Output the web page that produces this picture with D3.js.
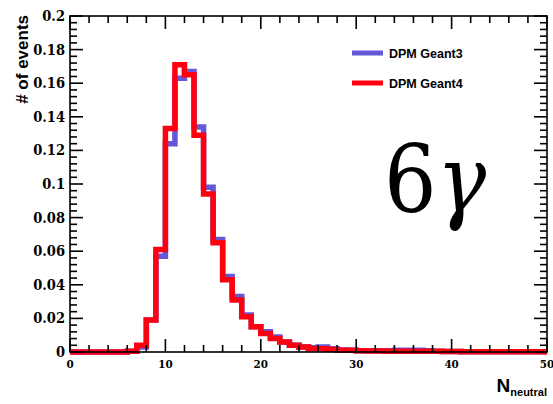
<!DOCTYPE html>
<html>
<head>
<meta charset="utf-8">
<script src="https://cdn.jsdelivr.net/npm/d3@7"></script>
<style>
  body { margin: 0; background: #fff; }
  svg { display: block; }
</style>
</head>
<body>
<figure id="hist" style="margin:0"></figure>
<script>
// bin contents, bins of width 1 from 0 to 50
const geant3 = [0, 0, 0, 0, 0, 0, 0.0005, 0.003, 0.019, 0.057,
  0.124, 0.163, 0.167, 0.134, 0.098, 0.067, 0.045, 0.033, 0.022, 0.015,
  0.012, 0.009, 0.006, 0.004, 0.003, 0.0025, 0.003, 0.002, 0.0012, 0.001,
  0.0008, 0.0008, 0.0007, 0.0007, 0.001, 0.001, 0.001, 0.0008, 0.0004, 0.0003,
  0.0003, 0.0002, 0.0002, 0.0002, 0.0001, 0.0001, 0.0001, 0.0001, 0.0001, 0.0001];
const geant4 = [0, 0, 0, 0, 0, 0, 0.0005, 0.004, 0.019, 0.061,
  0.133, 0.171, 0.165, 0.129, 0.094, 0.065, 0.043, 0.031, 0.021, 0.015,
  0.011, 0.008, 0.006, 0.004, 0.003, 0.002, 0.002, 0.0015, 0.001, 0.001,
  0.0008, 0.0006, 0.0006, 0.0005, 0.0005, 0.0005, 0.0005, 0.0004, 0.0004, 0.0003,
  0.0003, 0.0002, 0.0002, 0.0002, 0.0001, 0.0001, 0.0001, 0.0001, 0.0001, 0.0001];
const seriesNames = ["DPM Geant3", "DPM Geant4"];
const yTicks = [0, 0.02, 0.04, 0.06, 0.08, 0.1, 0.12, 0.14, 0.16, 0.18, 0.2];
const xTicks = [0, 10, 20, 30, 40, 50];

const serif = "'DejaVu Serif Condensed', 'DejaVu Serif', serif";
const sans = "'Liberation Sans', Arial, sans-serif";

const W = 553, H = 404;
const margin = { left: 70, right: 6, top: 16, bottom: 52 };
const width = W - margin.left - margin.right;
const height = H - margin.top - margin.bottom;

const svg = d3.select("figure#hist").append("svg")
  .attr("width", W).attr("height", H);
const g = svg.append("g")
  .attr("transform", "translate(" + margin.left + "," + margin.top + ")");

const x = d3.scaleLinear().domain([0, 50]).range([0, width]);
const y = d3.scaleLinear().domain([0, 0.2]).range([height, 0]);

// histogram outline as a step path
function stepPath(vals) {
  const pts = [[x(0), y(0)]];
  vals.forEach((v, i) => {
    pts.push([x(i), y(v)]);
    pts.push([x(i + 1), y(v)]);
  });
  return d3.line()(pts);
}

g.append("path").attr("d", stepPath(geant3))
  .attr("fill", "none").attr("stroke", "#6358d8").attr("stroke-width", 5.5)
  .attr("stroke-linejoin", "miter");
g.append("path").attr("d", stepPath(geant4))
  .attr("fill", "none").attr("stroke", "#ff0010").attr("stroke-width", 5.5)
  .attr("stroke-linejoin", "miter");

// frame
g.append("rect").attr("width", width).attr("height", height)
  .attr("fill", "none").attr("stroke", "#000").attr("stroke-width", 1.6);

// ticks (inward, ROOT style) on all four sides
const yMinor = d3.range(0, 0.2001, 0.004);
const xMinor = d3.range(0, 50.01, 2);
const tickG = g.append("g").attr("stroke", "#000").attr("stroke-width", 1.6);
yMinor.forEach(v => {
  const major = Math.abs(v / 0.02 - Math.round(v / 0.02)) < 1e-6;
  const len = major ? 13 : 7;
  tickG.append("line").attr("x1", 0).attr("x2", len).attr("y1", y(v)).attr("y2", y(v));
  tickG.append("line").attr("x1", width).attr("x2", width - len).attr("y1", y(v)).attr("y2", y(v));
});
xMinor.forEach(v => {
  const major = v % 10 === 0;
  const len = major ? 13 : 7;
  tickG.append("line").attr("x1", x(v)).attr("x2", x(v)).attr("y1", height).attr("y2", height - len);
  tickG.append("line").attr("x1", x(v)).attr("x2", x(v)).attr("y1", 0).attr("y2", len);
});

// tick labels
g.selectAll(".ylab").data(yTicks).enter().append("text")
  .attr("x", -5).attr("y", d => y(d) + 5)
  .attr("text-anchor", "end")
  .attr("font-family", serif).attr("font-weight", "bold")
  .attr("font-size", 14.5)
  .text(d => d3.format("")(d));
g.selectAll(".xlab").data(xTicks).enter().append("text")
  .attr("x", d => x(d)).attr("y", height + 16)
  .attr("text-anchor", "middle")
  .attr("font-family", serif).attr("font-weight", "bold")
  .attr("font-size", 11.5)
  .text(d => d);

// axis titles
svg.append("text")
  .attr("transform", "translate(28,15) rotate(-90)")
  .attr("text-anchor", "end")
  .attr("font-family", sans).attr("font-weight", "bold")
  .attr("font-size", 17)
  .text("# of events");
const xt = svg.append("text")
  .attr("x", 547).attr("y", 392)
  .attr("text-anchor", "end")
  .attr("font-family", sans).attr("font-weight", "bold")
  .attr("font-size", 19);
xt.append("tspan").text("N");
xt.append("tspan").attr("dy", 4).attr("font-size", 11).text("neutral");

// legend
const legColors = ["#6358d8", "#ff0010"];
seriesNames.forEach((name, i) => {
  const ly = 53 + i * 30;
  svg.append("line").attr("x1", 352).attr("x2", 383).attr("y1", ly).attr("y2", ly)
    .attr("stroke", legColors[i]).attr("stroke-width", 5);
  svg.append("text").attr("x", 389).attr("y", ly + 5)
    .attr("font-family", sans).attr("font-weight", "bold")
    .attr("font-size", 12.5)
    .text(name);
});

// label
const lab = svg.append("text")
  .attr("transform", "translate(384,212) scale(0.88,1)")
  .attr("font-family", "'DejaVu Serif', serif")
  .attr("font-size", 94);
lab.append("tspan").text("6");
lab.append("tspan").attr("font-style", "italic").text("γ");
</script>
</body>
</html>
